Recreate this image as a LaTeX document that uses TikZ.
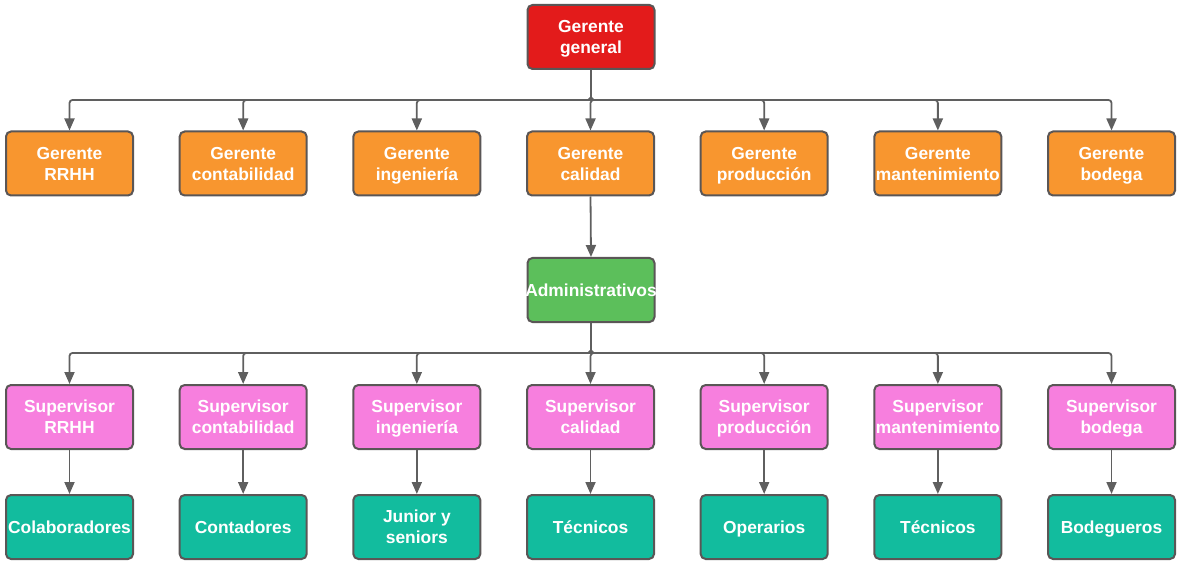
\documentclass[tikz,border=0pt]{standalone}
\usepackage{fontspec}
\setmainfont{Liberation Sans}
\usetikzlibrary{arrows.meta}
\definecolor{rojo}{HTML}{E31B1B}
\definecolor{naranja}{HTML}{F8962F}
\definecolor{verde}{HTML}{5CBF5B}
\definecolor{rosa}{HTML}{F77FDE}
\definecolor{turquesa}{HTML}{12BC9E}
\definecolor{borde}{HTML}{5A5656}
\definecolor{linea}{HTML}{5F5F5F}

\begin{document}
\begin{tikzpicture}[x=0.5pt, y=-0.5pt,
  box/.style={draw=borde, line width=1pt, rounded corners=2.5pt, minimum width=63.5pt, minimum height=32pt,
    inner sep=0pt, align=center, text=white, text height=16.7pt, text depth=0pt,
    font=\fontsize{8.7}{10.5}\selectfont\bfseries},
  oneline/.style={text height=6.2pt},
  link/.style={draw=linea, line width=0.9pt, rounded corners=1.5pt, -{Triangle[length=6pt, width=5pt]}}]
  \useasboundingbox (0,0) rectangle (1177,561);
  \node[box, fill=rojo] (gg) at (591,37) {Gerente\\general};
  \foreach \i/\t in {1/{Gerente\\RRHH}, 2/{Gerente\\contabilidad}, 3/{Gerente\\ingeniería}, 4/{Gerente\\calidad},
      5/{Gerente\\producción}, 6/{Gerente\\mantenimiento}, 7/{Gerente\\bodega}}
    \node[box, fill=naranja] (g\i) at ({69.5+173.67*(\i-1)},163.5) {\t};
  \node[box, oneline, fill=verde] (adm) at (591,290) {\makebox[0pt]{Administrativos}};
  \foreach \i/\t in {1/{Supervisor\\RRHH}, 2/{Supervisor\\contabilidad}, 3/{Supervisor\\ingeniería}, 4/{Supervisor\\calidad},
      5/{Supervisor\\producción}, 6/{Supervisor\\mantenimiento}, 7/{Supervisor\\bodega}}
    \node[box, fill=rosa] (s\i) at ({69.5+173.67*(\i-1)},417) {\t};
  \foreach \i/\t/\h in {1/Colaboradores/6.2, 2/Contadores/6.2, 3/{Junior y\\seniors}/16.7, 4/Técnicos/6.2,
      5/Operarios/6.2, 6/Técnicos/6.2, 7/Bodegueros/6.2}
    \node[box, text height=\h pt, fill=turquesa] (w\i) at ({69.5+173.67*(\i-1)},527) {\t};
  \coordinate (bus1) at (591,100);
  \coordinate (bus2) at (591,353);
  \foreach \i in {1,...,7} {
    \draw[link] (gg.south) -- (bus1) -| (g\i.north);
    \draw[link] (adm.south) -- (bus2) -| (s\i.north);
    \draw[link] (s\i.south) -- (w\i.north);
  }
  \draw[link] (g4.south) -- (adm.north);
\end{tikzpicture}
\end{document}
